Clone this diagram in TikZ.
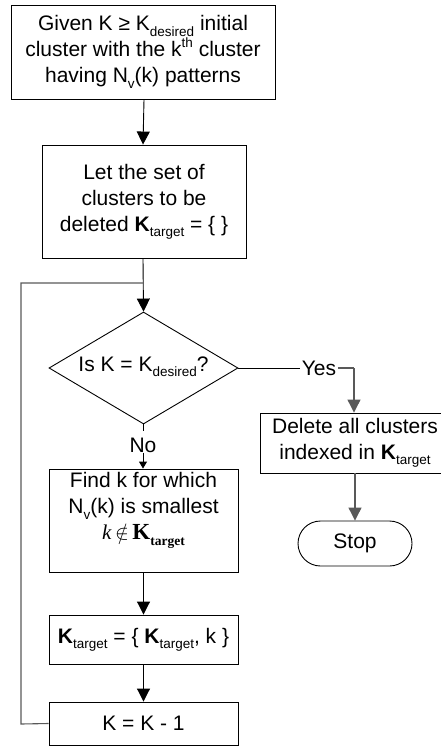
\documentclass[tikz,border=0pt]{standalone}
\usepackage{fontspec}
\setmainfont{Liberation Sans}
\newfontfamily\tnr{Liberation Serif}
\usetikzlibrary{arrows.meta,shapes.geometric}

% small raised / lowered text for indices
\newcommand\lowtxt[1]{\raisebox{-0.25em}{\fontsize{13.5}{13.5}\selectfont #1}}
\newcommand\hightxt[1]{\raisebox{0.45em}{\fontsize{13.5}{13.5}\selectfont #1}}

\tikzset{
  txt/.style={font=\fontsize{21}{26}\selectfont, align=center, inner sep=0pt},
  box/.style={draw=black, line width=0.9pt, rectangle, inner sep=0pt, txt},
  dia/.style={draw=black, line width=0.9pt, diamond, inner sep=0pt},
  term/.style={draw=black, line width=0.9pt, rectangle, rounded corners=22.5pt, inner sep=0pt, txt},
  flow/.style={draw=black, line width=0.9pt, -{Triangle[width=13pt,length=13pt]}},
  flowg/.style={draw=black!65, line width=1.1pt, -{Triangle[width=13pt,length=13pt]}},
  lineg/.style={draw=black!65, line width=1.1pt},
  linek/.style={draw=black, line width=0.9pt},
}

\begin{document}
\begin{tikzpicture}[x=1pt,y=-1pt]
\useasboundingbox (0,0) rectangle (440,746);

% start box
\node[box, minimum width=264pt, minimum height=94pt] (start) at (143,52)
  {Given K ≥ K\lowtxt{desired} initial\\cluster with the k\hightxt{th} cluster\\having N\lowtxt{v}(k) patterns};

% initialise target set
\node[box, minimum width=204pt, minimum height=113pt] (init) at (144,201.5)
  {Let the set of\\clusters to be\\deleted \textbf{K}\lowtxt{target} = \{ \}};

% junction where the loop re-enters
\coordinate (join) at (143,283);
\coordinate (loopTop) at (21,283);
\coordinate (loopBot) at (21,724);

% decision
\node[dia, minimum width=189pt, minimum height=112pt] (test) at (143.5,368) {};
\node[txt] (testtxt) at (143.5,367) {Is K = K\lowtxt{desired}?};

% yes branch
\node[txt, inner xsep=1.5pt] (yes) at (319,368) {Yes};
\coordinate (yesCorner) at (354,368);
\node[box, minimum width=190pt, minimum height=60pt] (delete) at (355,443)
  {Delete all clusters\\indexed in \textbf{K}\lowtxt{target}};
\node[term, minimum width=114pt, minimum height=45pt] (stop) at (355,543.5) {Stop};

% no branch
\node[txt] (no) at (143,445) {No};
\node[box, minimum width=189pt, minimum height=103pt] (find) at (143.5,520.5) {};
\node[txt, anchor=north] (findtxt) at (143.5,472.5)
  {Find k for which\\N\lowtxt{v}(k) is smallest\\{\tnr\itshape k}\,$\notin$\,{\tnr\bfseries\fontsize{23}{26}\selectfont K}\lowtxt{\tnr\bfseries target}};

\node[box, minimum width=189pt, minimum height=49pt] (add) at (143.5,639.5)
  {\textbf{K}\lowtxt{target} = \{ \textbf{K}\lowtxt{target}, k \}};
\node[box, minimum width=189pt, minimum height=43pt] (dec) at (143.5,723.5) {K = K - 1};

% connectors
\draw[flow] (start.south -| init.north) -- (init.north -| start.south);
\draw[flow] (init.south -| join) -- (test.north);
\draw[linek] (test.east) -- (yes.west);
\draw[lineg] (yes.east) -- (yesCorner);
\draw[flowg] (yesCorner) -- (yesCorner |- delete.north);
\draw[flowg] (delete.south -| stop.north) -- (stop.north);
\draw[linek] (test.south) -- ++(0,7);
\draw[linek, -{Triangle[width=8pt,length=7pt]}] (no.south) -- (find.north -| no.south);
\draw[flow] (find.south -| add.north) -- (add.north);
\draw[flow] (add.south) -- (dec.north);
\draw[lineg] (dec.west) -- (loopBot) -- (loopTop) -- (join);
\end{tikzpicture}
\end{document}
